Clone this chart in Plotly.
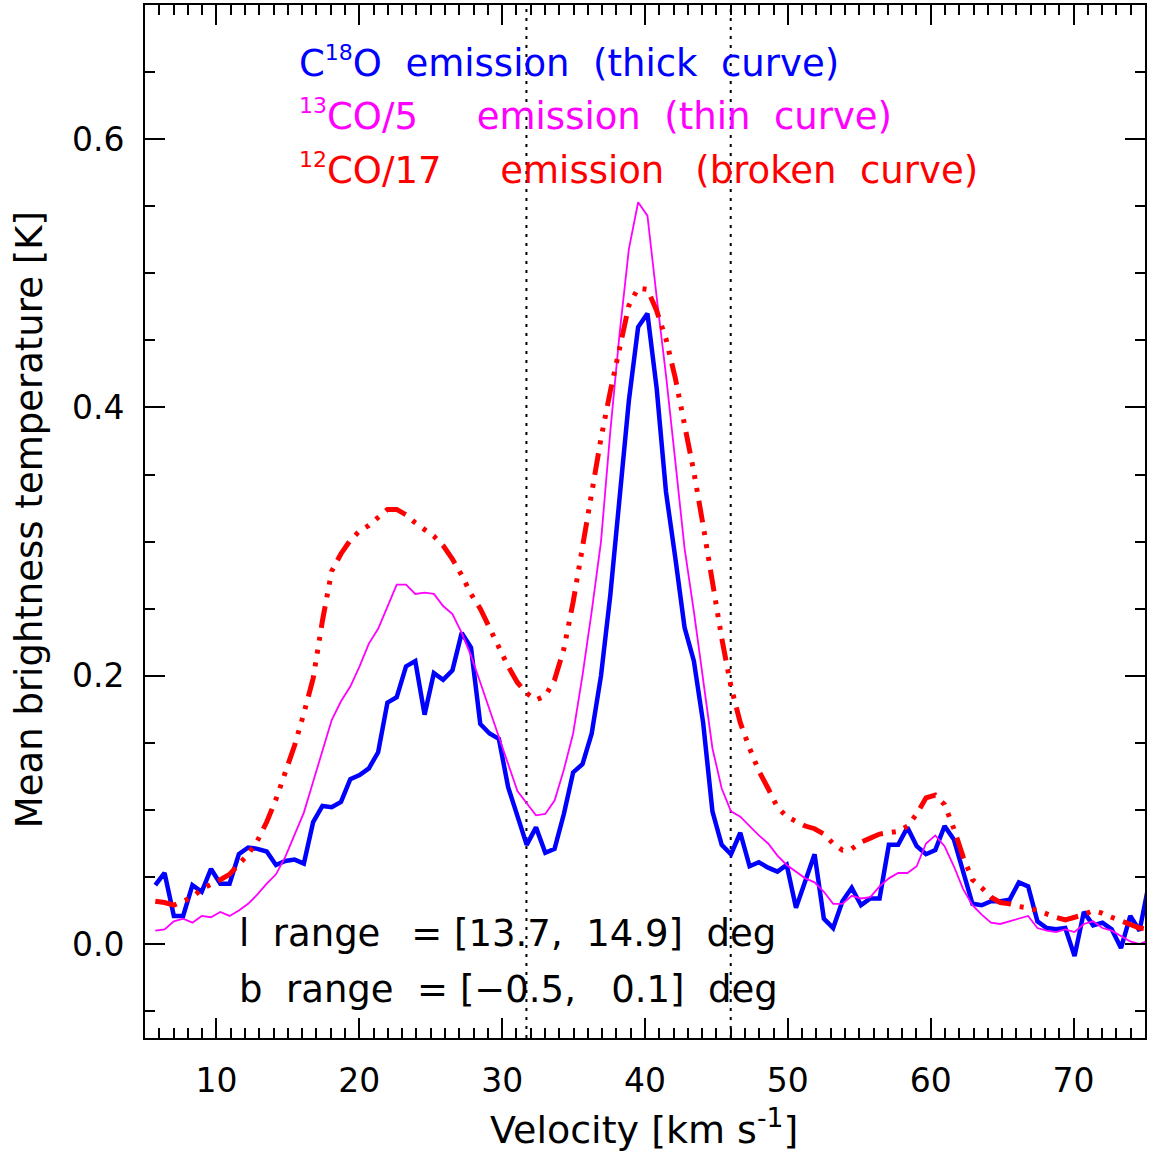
import numpy as np
import plotly.graph_objects as go

# Spectral channel axis (km/s), 0.65 km/s channels
velocity = np.round(5.72 + 0.65 * np.arange(108), 2)

# Mean brightness temperatures [K]
c18o = [
    0.044, 0.053, 0.021, 0.021, 0.044, 0.039, 0.056, 0.045, 0.045, 0.067,
    0.072, 0.071, 0.069, 0.059, 0.062, 0.063, 0.060, 0.091, 0.103, 0.102,
    0.106, 0.123, 0.126, 0.131, 0.143, 0.180, 0.184, 0.207, 0.211, 0.171,
    0.202, 0.197, 0.204, 0.232, 0.221, 0.164, 0.157, 0.153, 0.117, 0.095,
    0.074, 0.087, 0.068, 0.071, 0.097, 0.128, 0.134, 0.157, 0.200, 0.260,
    0.335, 0.405, 0.460, 0.470, 0.414, 0.337, 0.288, 0.236, 0.211, 0.165,
    0.099, 0.074, 0.067, 0.083, 0.058, 0.061, 0.057, 0.054, 0.059, 0.027,
    0.047, 0.067, 0.019, 0.012, 0.032, 0.042, 0.029, 0.034, 0.034, 0.074,
    0.074, 0.087, 0.073, 0.067, 0.070, 0.088, 0.078, 0.055, 0.030, 0.029,
    0.032, 0.032, 0.033, 0.046, 0.043, 0.017, 0.012, 0.011, 0.012, -0.009,
    0.024, 0.014, 0.016, 0.011, -0.003, 0.021, 0.010, 0.045,
]

co13_div5 = [
    0.010, 0.011, 0.017, 0.019, 0.016, 0.021, 0.020, 0.024, 0.021, 0.025,
    0.030, 0.037, 0.045, 0.052, 0.065, 0.081, 0.098, 0.121, 0.144, 0.167,
    0.181, 0.192, 0.207, 0.224, 0.235, 0.251, 0.268, 0.268, 0.261, 0.262,
    0.261, 0.252, 0.246, 0.232, 0.215, 0.195, 0.175, 0.155, 0.135, 0.114,
    0.105, 0.096, 0.097, 0.107, 0.130, 0.157, 0.200, 0.248, 0.300, 0.382,
    0.455, 0.518, 0.553, 0.543, 0.482, 0.424, 0.360, 0.295, 0.248, 0.195,
    0.146, 0.116, 0.099, 0.095, 0.088, 0.081, 0.075, 0.066, 0.059, 0.054,
    0.049, 0.046, 0.039, 0.030, 0.030, 0.036, 0.034, 0.035, 0.043, 0.049,
    0.053, 0.053, 0.058, 0.075, 0.081, 0.073, 0.058, 0.041, 0.029, 0.022,
    0.016, 0.015, 0.017, 0.019, 0.021, 0.012, 0.010, 0.009, 0.011, 0.009,
    0.015, 0.017, 0.012, 0.010, 0.006, 0.002, 0.000, 0.003,
]

co12_div17 = [
    0.032, 0.031, 0.029, 0.032, 0.035, 0.041, 0.044, 0.048, 0.052, 0.059,
    0.067, 0.077, 0.091, 0.108, 0.127, 0.148, 0.172, 0.198, 0.241, 0.278,
    0.291, 0.301, 0.308, 0.312, 0.318, 0.324, 0.324, 0.320, 0.314, 0.309,
    0.304, 0.297, 0.287, 0.275, 0.261, 0.250, 0.235, 0.221, 0.207, 0.195,
    0.187, 0.182, 0.185, 0.197, 0.220, 0.255, 0.297, 0.340, 0.377, 0.412,
    0.445, 0.476, 0.489, 0.488, 0.472, 0.451, 0.422, 0.389, 0.352, 0.312,
    0.270, 0.228, 0.192, 0.165, 0.146, 0.129, 0.116, 0.102, 0.095, 0.091,
    0.088, 0.086, 0.082, 0.075, 0.070, 0.071, 0.076, 0.079, 0.082, 0.083,
    0.084, 0.088, 0.097, 0.109, 0.111, 0.104, 0.086, 0.065, 0.048, 0.042,
    0.035, 0.031, 0.030, 0.028, 0.027, 0.025, 0.022, 0.020, 0.018, 0.020,
    0.022, 0.025, 0.023, 0.020, 0.017, 0.014, 0.012, 0.011,
]

# Velocity boundaries marked by dotted lines
v_markers = [31.7, 46.0]

FONT = "DejaVu Sans"

fig = go.Figure()
fig.add_trace(go.Scatter(x=velocity, y=c18o, mode="lines",
                         line=dict(color="#0000ff", width=4.5)))
fig.add_trace(go.Scatter(x=velocity, y=co13_div5, mode="lines",
                         line=dict(color="#ff00ff", width=1.8)))
fig.add_trace(go.Scatter(x=velocity, y=co12_div17, mode="lines",
                         line=dict(color="#ff0000", width=5,
                                   dash="22px,9px,4px,9px,4px,9px,4px,9px")))

for v in v_markers:
    fig.add_shape(type="line", xref="x", yref="paper", x0=v, x1=v, y0=0, y1=1,
                  line=dict(color="black", width=2, dash="3px,6px"), layer="below")

axis_common = dict(showline=True, linewidth=2, linecolor="black", mirror="allticks",
                   ticks="inside", ticklen=20, tickwidth=1.5, tickcolor="black",
                   showgrid=False, zeroline=False,
                   tickfont=dict(family=FONT, size=33, color="black"))

fig.update_xaxes(range=[5, 75], tick0=0, dtick=10, ticklabelstandoff=12,
                 minor=dict(dtick=1, ticklen=10, tickwidth=1.5, ticks="inside",
                            tickcolor="black", showgrid=False),
                 **axis_common)
fig.update_yaxes(range=[-0.07, 0.70], tick0=0, dtick=0.2, tickformat=".1f",
                 ticklabelstandoff=12,
                 minor=dict(dtick=0.05, ticklen=10, tickwidth=1.5, ticks="inside",
                            tickcolor="black", showgrid=False),
                 **axis_common)


def iso(mass):
    return f"<sup><span style='font-size:22px'>{mass}</span></sup>"


THIN = "\u2009"
notes = [
    (f"C{iso(18)}O  emission  (thick  curve)", "#0000ff", 0.1517, 0.9448),
    (f"{iso(13)}CO/5     emission  (thin  curve)", "#ff00ff", 0.1517, 0.8935),
    (f"{iso(12)}CO/17     emission  {THIN}(broken  curve)", "#ff0000", 0.1517, 0.8412),
    (f"l  range {THIN} = [13.7,  14.9]  deg", "black", 0.0918, 0.1007),
    ("b  range  = [\u22120.5,   0.1]  deg", "black", 0.0918, 0.0465),
]
for text, color, x, y in notes:
    fig.add_annotation(text=text, xref="paper", yref="paper", x=x, y=y,
                       xanchor="left", yanchor="middle", showarrow=False,
                       font=dict(family=FONT, size=37, color=color))

fig.add_annotation(text="Velocity [km s<sup>-1</sup>]", xref="paper", yref="paper",
                   x=0.499, y=-0.0862, xanchor="center", yanchor="middle",
                   showarrow=False, font=dict(family=FONT, size=38, color="black"))
fig.add_annotation(text="Mean brightness temperature [K]", xref="paper", yref="paper",
                   x=-0.1148, y=0.5015, xanchor="center", yanchor="middle",
                   textangle=-90, showarrow=False,
                   font=dict(family=FONT, size=37, color="black"))

fig.update_layout(width=1149, height=1152, margin=dict(l=145, r=2, t=5, b=114),
                  paper_bgcolor="white", plot_bgcolor="white", showlegend=False,
                  font=dict(family=FONT, size=33, color="black"))

fig.write_html("out.html")
